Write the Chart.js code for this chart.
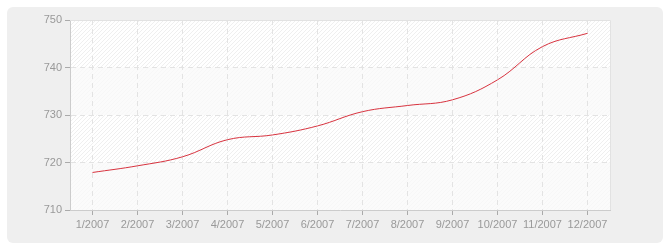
<!DOCTYPE html>
<html>
<head>
<meta charset="utf-8">
<script src="https://cdn.jsdelivr.net/npm/chart.js@4"></script>
<style>
    html, body { margin: 0; padding: 0; background: #fff; }
    #wrap { position: relative; width: 670px; height: 250px; }
    #box { position: absolute; left: 7px; top: 7px; width: 656px; height: 236px; background: #efefef; border-radius: 6px; }
    #chart { position: absolute; left: 0; top: 0; }
</style>
</head>
<body>
<div id="wrap">
    <div id="box"></div>
    <canvas id="chart" width="670" height="250"></canvas>
</div>
<script>
const months = ["1/2007", "2/2007", "3/2007", "4/2007", "5/2007", "6/2007",
                "7/2007", "8/2007", "9/2007", "10/2007", "11/2007", "12/2007"];
const values = [717.9, 719.3, 721.2, 724.8, 725.8, 727.7, 730.7, 732.0, 733.2, 737.4, 744.4, 747.2];
const yTicks = [710, 720, 730, 740, 750];
const bands = [[710, 720], [730, 740]];

// diagonal hatch used as plot background
function hatch() {
    const c = document.createElement("canvas");
    c.width = 4; c.height = 4;
    const g = c.getContext("2d");
    g.fillStyle = "#ffffff";
    g.fillRect(0, 0, 4, 4);
    g.strokeStyle = "#efefef";
    g.lineWidth = 1;
    g.beginPath();
    g.moveTo(0, 4); g.lineTo(4, 0);
    g.moveTo(-1, 1); g.lineTo(1, -1);
    g.moveTo(3, 5); g.lineTo(5, 3);
    g.stroke();
    return g.createPattern(c, "repeat");
}

const plotBg = {
    id: "plotBg",
    beforeDraw(chart) {
        const { ctx, chartArea: a, scales } = chart;
        ctx.save();
        ctx.fillStyle = hatch();
        ctx.fillRect(a.left, a.top, a.right - a.left, a.bottom - a.top);
        ctx.fillStyle = "rgba(250,250,250,0.75)";
        bands.forEach(b => {
            const y1 = scales.y.getPixelForValue(b[1]);
            const y0 = scales.y.getPixelForValue(b[0]);
            ctx.fillRect(a.left, y1, a.right - a.left, y0 - y1);
        });
        ctx.restore();
    },
    afterDatasetsDraw(chart) {
        const { ctx, chartArea: a } = chart;
        ctx.save();
        ctx.strokeStyle = "#e2e2e2";
        ctx.lineWidth = 1;
        ctx.beginPath();
        ctx.moveTo(a.left, a.top + 0.5);
        ctx.lineTo(a.right + 0.5, a.top + 0.5);
        ctx.lineTo(a.right + 0.5, a.bottom);
        ctx.stroke();
        ctx.restore();
    }
};

const tickFont = { family: "'Liberation Sans', Arial, sans-serif", size: 11 };

new Chart(document.getElementById("chart").getContext("2d"), {
    type: "line",
    data: {
        labels: months,
        datasets: [{
            data: values,
            borderColor: "#d8333f",
            borderWidth: 1,
            pointRadius: 0,
            tension: 0.4,
            fill: false
        }]
    },
    options: {
        responsive: false,
        animation: false,
        layout: { padding: { left: 0, top: 20, right: 60, bottom: 0 } },
        plugins: {
            legend: { display: false },
            tooltip: { enabled: false }
        },
        scales: {
            x: {
                offset: true,
                afterFit: s => { s.height = 40; },
                grid: {
                    offset: false,
                    color: "#e3e3e3",
                    tickColor: "#aaaaaa",
                    tickLength: 5,
                    tickBorderDash: []
                },
                border: { color: "#cccccc", dash: [5, 4] },
                ticks: { color: "#999999", font: tickFont, padding: 3, maxRotation: 0, autoSkip: false }
            },
            y: {
                min: 710,
                max: 750,
                afterFit: s => { s.width = 70; },
                afterBuildTicks: s => { s.ticks = yTicks.map(v => ({ value: v })); },
                grid: {
                    color: "#e3e3e3",
                    tickColor: "#aaaaaa",
                    tickLength: 5,
                    tickBorderDash: []
                },
                border: { color: "#cccccc", dash: [5, 4] },
                ticks: { color: "#999999", font: tickFont, padding: 3 }
            }
        }
    },
    plugins: [plotBg]
});
</script>
</body>
</html>
